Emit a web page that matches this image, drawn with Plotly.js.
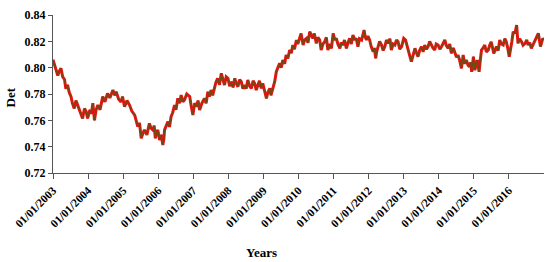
<!DOCTYPE html>
<html>
<head>
<meta charset="utf-8">
<script src="https://cdn.plot.ly/plotly-3.0.1.min.js"></script>
<style>html,body{margin:0;padding:0;background:#fff;}#chart{width:550px;height:262px;}</style>
</head>
<body>
<div id="chart"></div>
<script>
const dates = [
'2003-01-01','2003-01-25','2003-02-20','2003-03-05','2003-03-25','2003-04-12','2003-05-01','2003-05-15','2003-06-01','2003-06-20','2003-07-08','2003-07-22','2003-08-10','2003-08-28','2003-09-15','2003-10-10','2003-11-05','2003-11-25','2003-12-12','2003-12-28',
'2004-01-20','2004-02-05','2004-02-20','2004-03-08','2004-03-25','2004-04-12','2004-05-05','2004-06-02','2004-06-25','2004-07-22','2004-08-15','2004-09-16','2004-10-05','2004-10-20','2004-11-15','2004-12-10','2004-12-25',
'2005-01-15','2005-02-10','2005-03-08','2005-04-01','2005-05-01','2005-05-18','2005-06-02','2005-06-20','2005-07-08','2005-07-25','2005-08-10','2005-09-05','2005-10-01','2005-10-18','2005-11-06','2005-11-20','2005-12-02','2005-12-15','2005-12-28',
'2006-01-15','2006-02-01','2006-02-18','2006-03-01','2006-03-08','2006-03-25','2006-04-12','2006-04-28','2006-05-15','2006-06-01','2006-06-20','2006-07-05','2006-07-24','2006-08-10','2006-08-28','2006-09-15','2006-10-01','2006-10-25','2006-11-25','2006-12-10','2006-12-28',
'2007-01-15','2007-02-02','2007-02-20','2007-03-08','2007-04-01','2007-04-28','2007-05-15','2007-06-02','2007-06-18','2007-07-05','2007-07-22','2007-08-10','2007-08-25','2007-09-12','2007-10-01','2007-10-20','2007-11-05','2007-11-22','2007-12-10','2007-12-28',
'2008-01-15','2008-02-03','2008-02-20','2008-03-08','2008-03-25','2008-04-10','2008-04-28','2008-05-15','2008-06-01','2008-06-20','2008-07-05','2008-07-22','2008-08-10','2008-08-28','2008-09-15','2008-10-01','2008-10-18','2008-11-03','2008-11-20','2008-12-10','2008-12-25',
'2009-01-15','2009-02-01','2009-02-15','2009-03-08','2009-03-20','2009-04-05','2009-04-28','2009-05-15','2009-06-01','2009-06-18','2009-07-05','2009-07-22','2009-08-10','2009-08-25','2009-09-12','2009-10-01','2009-10-18','2009-11-03','2009-11-20','2009-12-10','2009-12-25',
'2010-01-12','2010-01-28','2010-02-18','2010-03-05','2010-03-25','2010-04-10','2010-04-28','2010-05-15','2010-05-30','2010-06-15','2010-07-05','2010-07-22','2010-08-10','2010-08-25','2010-09-12','2010-10-01','2010-10-18','2010-11-03','2010-11-20','2010-12-10','2010-12-28',
'2011-01-15','2011-01-30','2011-02-15','2011-03-08','2011-03-22','2011-04-08','2011-04-25','2011-05-15','2011-06-01','2011-06-18','2011-07-05','2011-07-22','2011-08-10','2011-08-25','2011-09-12','2011-09-28','2011-10-20','2011-11-01','2011-11-15','2011-11-28','2011-12-10','2011-12-25',
'2012-01-12','2012-01-28','2012-02-18','2012-03-01','2012-03-15','2012-03-25','2012-04-08','2012-04-25','2012-05-15','2012-06-01','2012-06-18','2012-07-05','2012-07-22','2012-08-10','2012-08-25','2012-09-12','2012-10-01','2012-10-18','2012-11-03','2012-11-20','2012-12-10','2012-12-20',
'2013-01-01','2013-01-20','2013-02-05','2013-02-18','2013-03-05','2013-03-22','2013-04-10','2013-04-28','2013-05-15','2013-05-30','2013-06-15','2013-07-05','2013-07-22','2013-08-08','2013-08-25','2013-09-12','2013-09-28','2013-10-15','2013-11-01','2013-11-20','2013-12-05','2013-12-25',
'2014-01-12','2014-01-30','2014-02-15','2014-03-05','2014-03-20','2014-04-08','2014-04-25','2014-05-12','2014-06-01','2014-06-18','2014-07-05','2014-07-20','2014-08-05','2014-08-25','2014-09-12','2014-09-28','2014-10-15','2014-11-01','2014-11-15','2014-11-28','2014-12-10','2014-12-28',
'2015-01-12','2015-02-05','2015-02-25','2015-03-10','2015-03-22','2015-04-08','2015-04-25','2015-05-12','2015-06-01','2015-06-15','2015-07-01','2015-07-28','2015-08-10','2015-08-25','2015-09-12','2015-09-28','2015-10-15','2015-11-03','2015-11-20','2015-12-05','2015-12-20',
'2016-01-05','2016-02-01','2016-02-15','2016-03-05','2016-03-22','2016-04-05','2016-04-22','2016-05-12','2016-05-28','2016-06-18','2016-07-05','2016-07-20','2016-08-05','2016-08-22','2016-09-10','2016-09-28','2016-10-15','2016-11-03','2016-11-25','2016-12-10','2016-12-20','2016-12-31'
];
const det = [
0.806,0.801,0.794,0.797,0.7995,0.793,0.791,0.784,0.787,0.781,0.778,0.773,0.769,0.775,0.7716,0.766,0.7615,0.769,0.7666,0.7615,
0.768,0.765,0.773,0.760,0.768,0.7716,0.768,0.778,0.774,0.7805,0.777,0.783,0.779,0.7817,0.776,0.774,0.778,
0.7704,0.775,0.7716,0.767,0.764,0.760,0.7552,0.758,0.7464,0.750,0.7527,0.749,0.7577,0.754,0.7527,0.756,0.7464,0.751,0.7527,
0.745,0.749,0.7413,0.746,0.7527,0.756,0.759,0.755,0.7628,0.766,0.7716,0.768,0.7767,0.773,0.7792,0.774,0.7754,0.780,0.778,0.771,0.764,
0.773,0.7704,0.775,0.7679,0.773,0.7767,0.773,0.7817,0.778,0.783,0.779,0.7855,0.789,0.7919,0.787,0.7957,0.791,0.7868,0.793,0.7919,
0.786,0.7893,0.785,0.7919,0.788,0.7855,0.791,0.7893,0.784,0.7868,0.784,0.7906,0.786,0.7843,0.790,0.7881,0.783,0.7868,0.790,0.7843,0.788,
0.7817,0.7767,0.781,0.7843,0.779,0.783,0.7893,0.7969,0.801,0.8033,0.800,0.8058,0.803,0.8096,0.807,0.8134,0.811,0.8172,0.814,0.821,0.818,
0.8223,0.826,0.8172,0.821,0.8223,0.819,0.8273,0.824,0.8223,0.826,0.8185,0.823,0.821,0.8134,0.818,0.8197,0.823,0.8134,0.818,0.8147,0.8261,
0.821,0.8223,0.818,0.8147,0.819,0.8172,0.821,0.8147,0.819,0.8223,0.818,0.8248,0.821,0.8223,0.816,0.822,0.821,0.825,0.8286,0.823,0.821,0.824,
0.821,0.816,0.8121,0.815,0.8071,0.812,0.816,0.820,0.8172,0.813,0.816,0.821,0.8185,0.822,0.8134,0.818,0.8172,0.821,0.8197,0.814,0.816,0.819,
0.8223,0.821,0.816,0.8121,0.809,0.8046,0.811,0.8147,0.811,0.8083,0.813,0.816,0.812,0.8172,0.814,0.816,0.820,0.8172,0.815,0.8134,0.818,0.8172,
0.814,0.816,0.819,0.821,0.817,0.8147,0.818,0.8109,0.815,0.8121,0.808,0.8096,0.806,0.7995,0.8096,0.803,0.8058,0.802,0.8007,0.804,0.7969,0.8083,
0.7982,0.8058,0.7969,0.806,0.8134,0.815,0.8172,0.812,0.8134,0.817,0.8197,0.8109,0.814,0.816,0.813,0.821,0.818,0.8172,0.822,0.8197,0.815,
0.8083,0.8197,0.8273,0.826,0.8324,0.8185,0.822,0.8197,0.817,0.8185,0.821,0.8172,0.819,0.8147,0.818,0.8197,0.823,0.8261,0.816,0.820,0.8223,0.821
];
const tickDates = ['2003-01-01','2004-01-01','2005-01-01','2006-01-01','2007-01-01','2008-01-01','2009-01-01','2010-01-01','2011-01-01','2012-01-01','2013-01-01','2014-01-01','2015-01-01','2016-01-01'];
const tickLabels = ['01/01/2003','01/01/2004','01/01/2005','01/01/2006','01/01/2007','01/01/2008','01/01/2009','01/01/2010','01/01/2011','01/01/2012','01/01/2013','01/01/2014','01/01/2015','01/01/2016'];
const yTicks = [0.72,0.74,0.76,0.78,0.80,0.82,0.84];

const font = 'Liberation Serif, Times New Roman, serif';
const traces = [
  {x: dates, y: det, type: 'scatter', mode: 'lines', line: {color: '#ee1111', width: 3}, hoverinfo: 'skip'},
  {x: dates, y: det, type: 'scatter', mode: 'lines', line: {color: '#5e5214', width: 1}, hoverinfo: 'skip'}
];
const layout = {
  width: 550, height: 262,
  margin: {l: 53, r: 6, t: 15, b: 89},
  paper_bgcolor: '#fff', plot_bgcolor: '#fff',
  showlegend: false,
  font: {family: font, color: '#000'},
  xaxis: {
    type: 'date', range: ['2003-01-01', '2017-01-01'],
    tickmode: 'array', tickvals: tickDates, ticktext: tickLabels,
    tickangle: -45, ticks: 'outside', ticklen: 5, tickcolor: '#555',
    showline: true, linecolor: '#555', linewidth: 1.2,
    showgrid: false, zeroline: false,
    tickfont: {family: font, size: 11.5, color: '#000', weight: 'bold'}
  },
  yaxis: {
    range: [0.72, 0.84], tickmode: 'array', tickvals: yTicks,
    tickformat: '.2f', ticks: 'outside', ticklen: 4, tickcolor: '#555',
    showline: true, linecolor: '#555', linewidth: 1.2,
    showgrid: false, zeroline: false,
    tickfont: {family: font, size: 12, color: '#000', weight: 'bold'}
  },
  annotations: [
    {text: 'Years', xref: 'paper', yref: 'paper', x: 0.425, y: -0.506, showarrow: false,
     font: {family: font, size: 13, color: '#000', weight: 'bold'}, xanchor: 'center', yanchor: 'middle'},
    {text: 'Det', xref: 'paper', yref: 'paper', x: -0.087, y: 0.48, showarrow: false, textangle: -90,
     font: {family: font, size: 13, color: '#000', weight: 'bold'}, xanchor: 'center', yanchor: 'middle'}
  ]
};
Plotly.newPlot('chart', traces, layout, {staticPlot: true, displayModeBar: false});
</script>
</body>
</html>
